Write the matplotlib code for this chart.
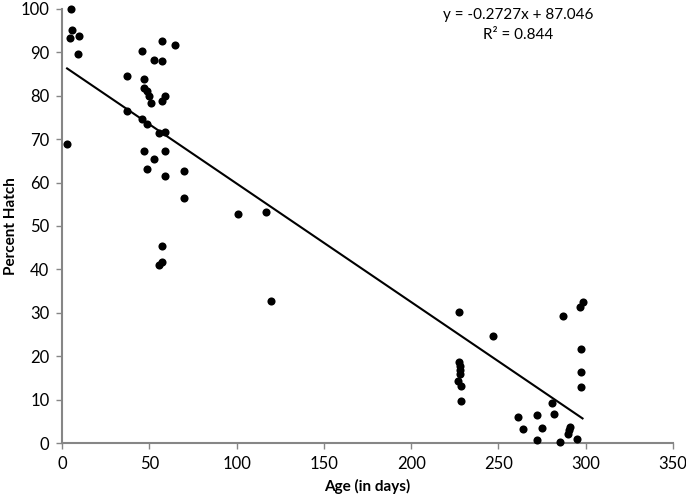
import numpy as np
import matplotlib.pyplot as plt

plt.rcParams['font.family'] = ['Lato', 'DejaVu Sans']

# age (days) and percent hatch
age = [2.9, 5.0, 5.9, 4.8, 9.9, 9.0,
       37.0, 37.0, 45.8, 47.0, 47.0, 48.9, 50.0, 51.0, 45.8, 48.7,
       57.1, 52.9, 57.1, 64.9, 58.8, 57.1, 55.7, 59.2, 47.0, 52.9,
       58.8, 48.9, 58.8, 69.9, 69.9, 57.1, 55.7, 57.1,
       100.8, 117.0, 119.9,
       227.2, 227.5, 228.0, 227.8, 228.0, 227.0, 228.3, 228.4,
       246.8, 286.9, 298.2, 296.9, 297.1, 297.1, 297.1,
       261.0, 264.1, 272.1, 275.1, 272.1, 280.6, 281.6, 285.1,
       290.9, 290.2, 289.8, 295.0]
hatch = [68.8, 100.0, 95.2, 93.2, 93.8, 89.5,
         84.6, 76.5, 90.2, 83.9, 81.8, 81.1, 80.0, 78.2, 74.6, 73.4,
         92.5, 88.2, 87.9, 91.6, 80.0, 78.8, 71.5, 71.6, 67.3, 65.5,
         67.3, 63.0, 61.6, 62.7, 56.4, 45.4, 41.1, 41.7,
         52.8, 53.2, 32.7,
         30.1, 18.8, 17.8, 16.8, 15.9, 14.4, 13.3, 9.7,
         24.8, 29.3, 32.5, 31.4, 21.7, 16.3, 13.0,
         6.0, 3.2, 6.5, 3.6, 0.8, 9.3, 6.8, 0.2,
         3.8, 3.0, 2.2, 1.1]

slope = -0.2727
intercept = 87.046
r2 = 0.844

fig = plt.figure(figsize=(6.86, 4.99), dpi=100)
ax = fig.add_axes([0.0904, 0.1116, 0.8906, 0.871])

ax.scatter(age, hatch, s=34, color='black', zorder=3, linewidths=0, clip_on=False)

xs = np.array([min(age), max(age)])
ax.plot(xs, slope * xs + intercept, color='black', linewidth=1.5)

ax.set_xlim(0, 350)
ax.set_ylim(0, 100)
ax.set_xticks(range(0, 351, 50))
ax.set_yticks(range(0, 101, 10))

for side in ['top', 'right']:
    ax.spines[side].set_visible(False)
for side in ['left', 'bottom']:
    ax.spines[side].set_color('#868686')
    ax.spines[side].set_linewidth(1.5)
ax.tick_params(direction='out', length=4, width=1, color='#868686',
               labelsize=12, pad=5)

ax.set_xlabel('Age (in days)', fontsize=11, fontweight='bold')
ax.set_ylabel('Percent Hatch', fontsize=11, fontweight='bold')
ax.xaxis.set_label_coords(0.5, -0.1, transform=ax.transAxes)
ax.yaxis.set_label_coords(-0.083, 0.5, transform=ax.transAxes)
ax.xaxis.label.set_va('center')
ax.yaxis.label.set_va('center')

ax.text(0.747, 0.985, 'y = -0.2727x + 87.046', transform=ax.transAxes,
        ha='center', va='center', fontsize=11)
ax.text(0.747, 0.94, f'R² = {r2}', transform=ax.transAxes,
        ha='center', va='center', fontsize=11)

fig.savefig('out.png', dpi=100)
